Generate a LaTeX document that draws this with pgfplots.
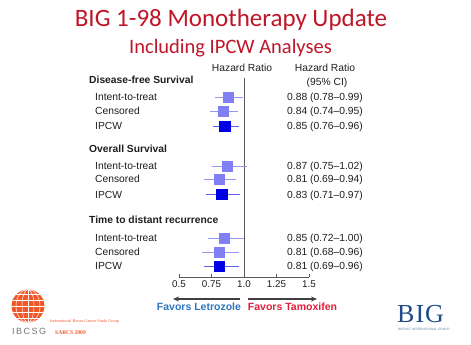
\documentclass[border=0pt]{standalone}
\usepackage{pgfplots}
\pgfplotsset{compat=1.18}
\usepackage{pgfplotstable}
\usepackage{fontspec}
\setmainfont{Liberation Sans}
\newfontfamily\titlefont{Carlito}
\newfontfamily\seriffont{Liberation Serif}
\usetikzlibrary{arrows.meta}

\definecolor{titlered}{RGB}{190,22,40}
\definecolor{boxlight}{RGB}{128,128,242}
\definecolor{cilight}{RGB}{150,150,240}
\definecolor{boxdark}{RGB}{0,0,228}
\definecolor{cidark}{RGB}{95,95,232}
\definecolor{txt}{RGB}{30,30,30}
\definecolor{letblue}{RGB}{46,117,190}
\definecolor{tamred}{RGB}{225,30,60}
\definecolor{ibcsg}{RGB}{240,88,40}
\definecolor{bigblue}{RGB}{30,75,135}

% hazard ratio, lower CI, upper CI, row position
\pgfplotstableread{
hr lo hi y
0.88 0.78 0.99 -97
0.87 0.75 1.02 -166
0.85 0.72 1.00 -238
}\itt
\pgfplotstableread{
hr lo hi y
0.84 0.74 0.95 -111
0.81 0.69 0.94 -179
0.81 0.68 0.96 -252
}\cens
\pgfplotstableread{
hr lo hi y
0.85 0.76 0.96 -126
0.83 0.71 0.97 -194
0.81 0.69 0.96 -266
}\ipcw

\newcommand{\fs}{\fontsize{10.3}{12}\selectfont}

\begin{document}
\begin{tikzpicture}
\path[use as bounding box] (0pt,0pt) rectangle (471pt,-345pt);

% titles
\node[font=\titlefont\fontsize{25}{30}\selectfont, text=titlered, anchor=base, inner sep=0pt] at (231pt,-27pt) {BIG 1-98 Monotherapy Update};
\node[font=\titlefont\fontsize{20.5}{24}\selectfont, text=titlered, anchor=base, inner sep=0pt] at (230.5pt,-53pt) {Including IPCW Analyses};

\begin{axis}[
  at={(179pt,-277pt)}, anchor=south west,
  x=130pt, y=1pt,
  xmin=0.5, xmax=1.5, ymin=-277, ymax=-78,
  axis x line*=bottom, axis y line=none,
  axis line style={draw=black!65, line width=0.6pt},
  xtick={0.5,0.75,1,1.25,1.5},
  xticklabels={0.5,0.75,1.0,1.25,1.5},
  tick align=inside, major tick length=3pt,
  tick style={draw=black!65, line width=0.6pt},
  tick label style={font=\fontsize{9.8}{11}\selectfont, text=txt},
  clip=false,
]
\addplot[black!65, line width=0.7pt] coordinates {(1,-78) (1,-277)};
% confidence intervals
\addplot[only marks, mark=none, error bars/.cd, x dir=both, x explicit, error mark=none,
  error bar style={draw=cilight, line width=1pt}]
  table[x=hr, y=y, x error plus expr=\thisrow{hi}-\thisrow{hr}, x error minus expr=\thisrow{hr}-\thisrow{lo}] {\itt};
\addplot[only marks, mark=none, error bars/.cd, x dir=both, x explicit, error mark=none,
  error bar style={draw=cilight, line width=1pt}]
  table[x=hr, y=y, x error plus expr=\thisrow{hi}-\thisrow{hr}, x error minus expr=\thisrow{hr}-\thisrow{lo}] {\cens};
\addplot[only marks, mark=none, error bars/.cd, x dir=both, x explicit, error mark=none,
  error bar style={draw=cidark, line width=1pt}]
  table[x=hr, y=y, x error plus expr=\thisrow{hi}-\thisrow{hr}, x error minus expr=\thisrow{hr}-\thisrow{lo}] {\ipcw};
% boxes
\addplot[only marks, mark=square*, mark size=5pt, mark options={fill=boxlight, draw=boxlight}] table[x=hr, y=y] {\itt};
\addplot[only marks, mark=square*, mark size=4.8pt, mark options={fill=boxlight, draw=boxlight}] table[x=hr, y=y] {\cens};
\addplot[only marks, mark=square*, mark size=5.3pt, mark options={fill=boxdark, draw=boxdark}] table[x=hr, y=y] {\ipcw};
\end{axis}

% column headers
\node[font=\fs, text=txt, anchor=base, inner sep=0pt] at (242pt,-71.5pt) {Hazard Ratio};
\node[font=\fs, text=txt, anchor=base, inner sep=0pt] at (325pt,-71.5pt) {Hazard Ratio};
\node[font=\fs, text=txt, anchor=base, inner sep=0pt] at (327pt,-85.5pt) {(95\% CI)};

% row labels
\begin{scope}[every node/.style={font=\fs, text=txt, anchor=base west, inner sep=0pt}]
\node[font=\fs\bfseries] at (89pt,-83.7pt) {Disease-free Survival};
\node at (95pt,-100.5pt) {Intent-to-treat};
\node at (95pt,-114.7pt) {Censored};
\node at (95pt,-129.5pt) {IPCW};
\node[font=\fs\bfseries] at (89pt,-152.7pt) {Overall Survival};
\node at (95pt,-169.5pt) {Intent-to-treat};
\node at (95pt,-182.7pt) {Censored};
\node at (95pt,-198pt) {IPCW};
\node[font=\fs\bfseries] at (89pt,-223.7pt) {Time to distant recurrence};
\node at (95pt,-241.5pt) {Intent-to-treat};
\node at (95pt,-255.5pt) {Censored};
\node at (95pt,-269.5pt) {IPCW};
\end{scope}

% values
\begin{scope}[every node/.style={font=\fs, text=txt, anchor=base east, inner sep=0pt}]
\node at (363pt,-100.5pt) {0.88 (0.78--0.99)};
\node at (363pt,-114.7pt) {0.84 (0.74--0.95)};
\node at (363pt,-129.5pt) {0.85 (0.76--0.96)};
\node at (363pt,-169.5pt) {0.87 (0.75--1.02)};
\node at (363pt,-182.7pt) {0.81 (0.69--0.94)};
\node at (363pt,-198pt) {0.83 (0.71--0.97)};
\node at (363pt,-241.5pt) {0.85 (0.72--1.00)};
\node at (363pt,-255.5pt) {0.81 (0.68--0.96)};
\node at (363pt,-269.5pt) {0.81 (0.69--0.96)};
\end{scope}

% arrows and favours
\draw[black!75, line width=1.1pt, -{Stealth[length=6pt,width=5pt]}] (240pt,-299pt) -- (173pt,-299pt);
\draw[black!75, line width=1.1pt, -{Stealth[length=6pt,width=5pt]}] (248pt,-299pt) -- (317pt,-299pt);
\node[font=\fontsize{10.5}{12}\selectfont\bfseries, text=letblue, anchor=base, inner sep=0pt] at (199pt,-310.5pt) {Favors Letrozole};
\node[font=\fontsize{10.5}{12}\selectfont\bfseries, text=tamred, anchor=base, inner sep=0pt] at (292.5pt,-310.5pt) {Favors Tamoxifen};

% IBCSG logo
\fill[ibcsg] (28pt,-306pt) circle (16.5pt);
\begin{scope}
\clip (28pt,-306pt) circle (16.5pt);
\draw[white, line width=0.5pt] (28pt,-306pt) ellipse (6pt and 16.5pt);
\draw[white, line width=0.5pt] (28pt,-306pt) ellipse (12pt and 16.5pt);
\draw[white, line width=0.5pt] (28pt,-289pt) -- (28pt,-323pt);
\foreach \yy in {-294,-300,-306,-312,-318} \draw[white, line width=0.5pt] (10pt,\yy pt) -- (46pt,\yy pt);
\end{scope}
\node[font=\fontsize{9}{10}\selectfont, text=black!55, anchor=base west, inner sep=0pt] at (12pt,-334pt) {I\,B\,C\,S\,G};
\node[font=\seriffont\fontsize{4.2}{5}\selectfont, text=ibcsg, anchor=base west, inner sep=0pt] at (50pt,-322pt) {International Breast Cancer Study Group};
\node[font=\seriffont\bfseries\fontsize{5.6}{6}\selectfont, text=ibcsg, anchor=base west, inner sep=0pt] at (55pt,-334pt) {SABCS 2009};

% BIG logo
\node[font=\seriffont\fontsize{26}{28}\selectfont, text=bigblue, anchor=base west, inner sep=0pt] at (397pt,-322pt) {B\kern1ptI\kern1ptG};
\node[font=\fontsize{3.2}{4}\selectfont, text=bigblue!70, anchor=base west, inner sep=0pt] at (398pt,-330.5pt) {BREAST INTERNATIONAL GROUP};
\end{tikzpicture}
\end{document}
